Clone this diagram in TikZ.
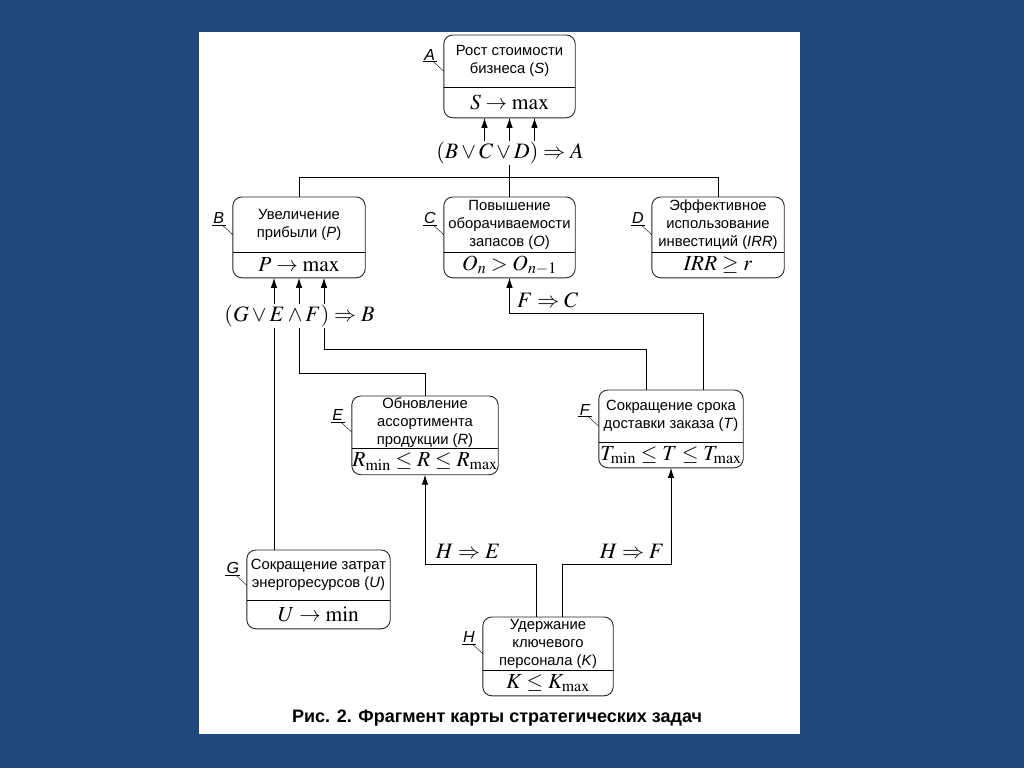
\documentclass[tikz,border=0pt]{standalone}
\usepackage{mathptmx}
\usepackage[no-math]{fontspec}
\setmainfont{Liberation Sans}
\usepackage{tikz}
\usetikzlibrary{positioning,arrows.meta,calc}
\definecolor{slideblue}{RGB}{31,73,125}
\tikzset{
  flowarrow/.style={-{Latex[length=10pt,width=6.5pt]}, line width=0.9pt},
  link/.style={line width=0.9pt},
  taskhead/.style={minimum width=#1, minimum height=52pt, inner sep=1pt, align=center, font=\fontsize{14.8}{18}\selectfont},
  taskhead/.default=131pt,
  taskfoot/.style={minimum width=#1, minimum height=25pt, inner sep=0pt, font=\fontsize{21.5}{24}\selectfont},
  taskfoot/.default=131pt,
  formula/.style={inner sep=1pt, font=\fontsize{22}{25}\selectfont},
  tagletter/.style={inner sep=1pt, minimum width=13pt, font=\fontsize{16}{18}\selectfont\itshape},
  outline/.style={draw=black!85, line width=0.9pt, rounded corners=9pt}
}
% frame of a task box with its letter tag
\newcommand{\taskframe}[2]{%
  \draw[outline] (#1.north west) rectangle (#1-f.south east);
  \draw[link] (#1.south west) -- (#1.south east);
  \coordinate (#1-h) at ([yshift=-10pt]#1.west);
  \node[tagletter, anchor=south] (#1-l) at ([xshift=-14pt,yshift=10pt]#1-h) {#2};
  \draw[thin] (#1-l.south west) -- (#1-l.south east);
  \draw[thin] ([xshift=3pt]#1-l.south) -- (#1-h);
}

\begin{document}
\begin{tikzpicture}[x=1pt, y=-1pt]
  \useasboundingbox (0,0) rectangle (1024,768);
  \fill[slideblue] (0,0) rectangle (1024,768);
  \fill[white] (199,32) rectangle (800,734);

  % tasks
  \node[taskhead, anchor=north] (A) at (509.5,35) {Рост стоимости\\бизнеса (\textit{S})};
  \node[taskfoot, minimum height=30pt, below=0pt of A] (A-f) {$S\to\max$};
  \node[taskhead=132pt, minimum height=55pt, anchor=north] (B) at (299,197) {Увеличение\\прибыли (\textit{P})};
  \node[taskfoot=132pt, below=0pt of B] (B-f) {$P\to\max$};
  \node[taskhead, minimum height=55pt, anchor=north] (C) at (509.5,197) {Повышение\\оборачиваемости\\запасов (\textit{O})};
  \node[taskfoot, below=0pt of C] (C-f) {$O_n>O_{n-1}$};
  \node[taskhead=132pt, minimum height=55pt, anchor=north] (D) at (718,197) {Эффективное\\использование\\инвестиций (\textit{IRR})};
  \node[taskfoot=132pt, below=0pt of D] (D-f) {$\mathit{IRR}\geq r$};
  \node[taskhead=146pt, minimum height=49pt, anchor=north] (E) at (425,396) {Обновление\\ассортимента\\продукции (\textit{R})};
  \node[taskfoot=146pt, minimum height=26pt, below=0pt of E] (E-f) {$R_{\min}\leq R\leq R_{\max}$};
  \node[taskhead=144pt, anchor=north] (F) at (671,390) {Сокращение срока\\доставки заказа (\textit{T})};
  \node[taskfoot=144pt, below=0pt of F] (F-f) {$T_{\min}\leq T\leq T_{\max}$};
  \node[taskhead=143pt, minimum height=50pt, anchor=north] (G) at (318.5,550) {Сокращение затрат\\энергоресурсов (\textit{U})};
  \node[taskfoot=143pt, minimum height=28pt, below=0pt of G] (G-f) {$U\to\min$};
  \node[taskhead=130pt, minimum height=53pt, anchor=north] (H) at (548,617) {Удержание\\ключевого\\персонала (\textit{K})};
  \node[taskfoot=130pt, below=0pt of H] (H-f) {$K\leq K_{\max}$};

  \taskframe{A}{A}
  \taskframe{B}{B}
  \taskframe{C}{C}
  \taskframe{D}{D}
  \taskframe{E}{E}
  \taskframe{F}{F}
  \taskframe{G}{G}
  \taskframe{H}{H}

  % implications
  \node[formula] (LA) at (510,153) {$(B\vee C\vee D)\Rightarrow A$};
  \node[formula] (LB) at (299.5,316) {$(G\vee E\wedge F)\Rightarrow B$};
  \node[formula, anchor=west] (LFC) at (516,300) {$F\Rightarrow C$};
  \node[formula] (LHE) at (468,551) {$H\Rightarrow E$};
  \node[formula] (LHF) at (632,551) {$H\Rightarrow F$};

  \coordinate (a1) at ([xshift=-25pt]A-f.south);
  \coordinate (a2) at (A-f.south);
  \coordinate (a3) at ([xshift=25pt]A-f.south);
  \coordinate (b1) at ([xshift=-25pt]B-f.south);
  \coordinate (b2) at (B-f.south);
  \coordinate (b3) at ([xshift=25pt]B-f.south);
  \foreach \c in {a1,a2,a3}
    \draw[flowarrow] (\c |- LA.north) -- (\c);
  \foreach \c in {b1,b2,b3}
    \draw[flowarrow] (\c |- LB.north) -- (\c);

  % B, C, D -> A
  \coordinate (hub) at ([yshift=-12pt]LA.south);
  \draw[link] (LA.south -| C.north) -- (C.north);
  \draw[link] (B.north) |- (hub) -| (D.north);

  % G, E, F -> B
  \coordinate (f1) at ([xshift=-25pt]F.north);
  \draw[link] (b1 |- LB.south) -- (b1 |- G.north);
  \draw[link] (b2 |- LB.south) -- ++(0,45) -| (E.north);
  \draw[link] (b3 |- LB.south) -- ++(0,21) -| (f1);

  % F -> C
  \coordinate (f2) at ([xshift=32pt]F.north);
  \draw[flowarrow] (f2) -- ++(0,-77) -| (C-f.south);

  % H -> E, F
  \coordinate (h1) at ([xshift=-12pt]H.north);
  \coordinate (h2) at ([xshift=14pt]H.north);
  \draw[flowarrow] (h1) -- ++(0,-53) -| (E-f.south);
  \draw[flowarrow] (h2) -- ++(0,-53) -| (F-f.south);

  \node[font=\fontsize{18}{20}\selectfont\bfseries] (cap) at (497,718) {Рис. 2. Фрагмент карты стратегических задач};
\end{tikzpicture}
\end{document}
